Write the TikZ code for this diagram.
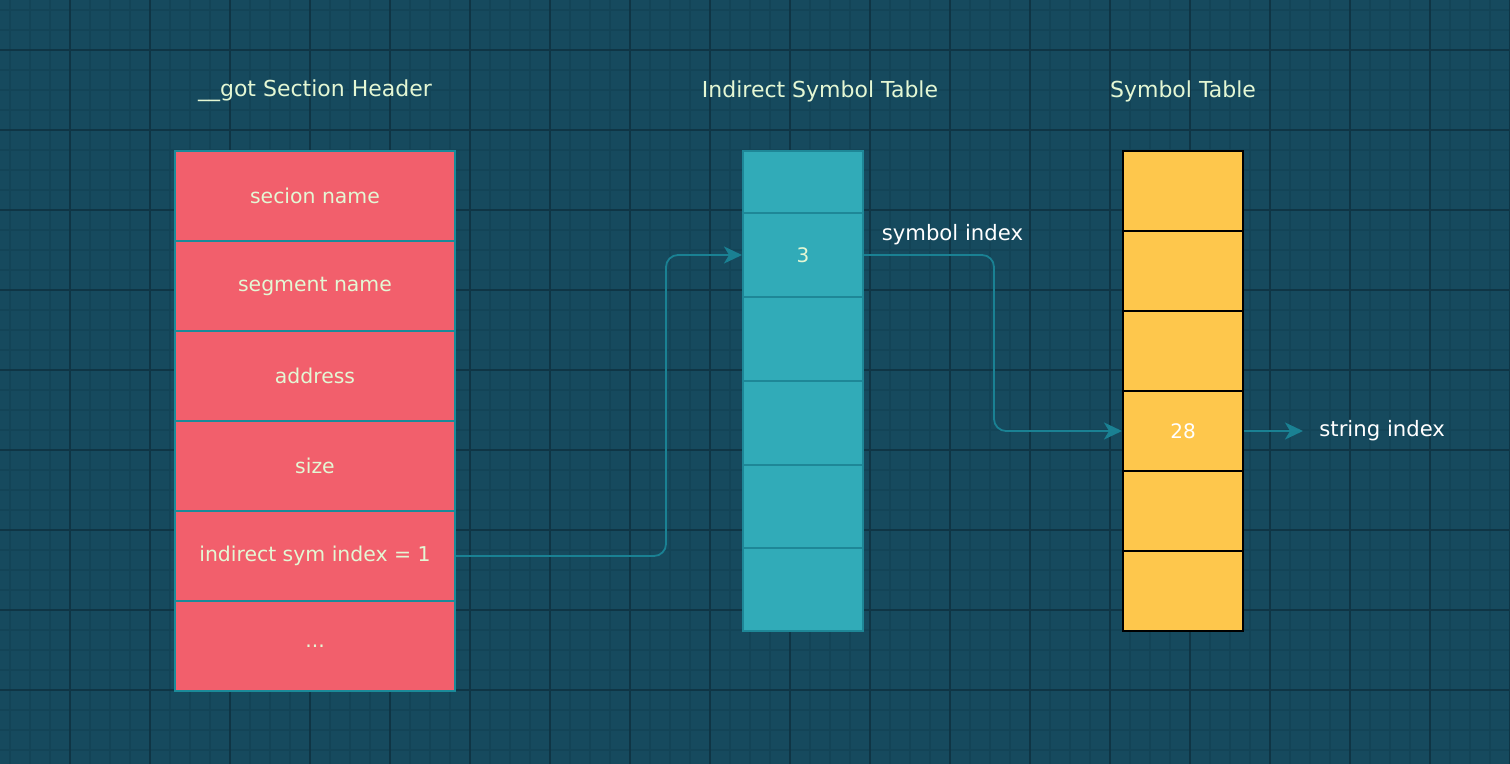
\documentclass[tikz,border=0pt]{standalone}
\usepackage{fontspec}
\setmainfont{DejaVu Sans}
\usepackage{xcolor}
\usetikzlibrary{arrows.meta}

\definecolor{boardbg}{HTML}{164A5E}
\definecolor{minorline}{HTML}{134457}
\definecolor{majorline}{HTML}{0F3545}
\definecolor{gotred}{HTML}{F25F6C}
\definecolor{gotedge}{HTML}{1B8A99}
\definecolor{isymfill}{HTML}{31ABB8}
\definecolor{isymedge}{HTML}{1E8797}
\definecolor{symfill}{HTML}{FEC74C}
\definecolor{mint}{HTML}{E4F7D4}
\definecolor{linkteal}{HTML}{1A8193}

\tikzset{
  gotcell/.style={draw=gotedge, fill=gotred, line width=1pt, minimum width=140pt, minimum height=45pt, text=mint, font=\fontsize{10.2}{12}\selectfont},
  isymcell/.style={draw=isymedge, fill=isymfill, line width=1pt, minimum width=60pt, minimum height=42pt, text=mint, font=\fontsize{10}{12}\selectfont},
  symcell/.style={draw=black, fill=symfill, line width=1pt, minimum width=60pt, minimum height=40pt, text=white, font=\fontsize{10}{12}\selectfont},
  tabletitle/.style={text=mint, font=\fontsize{11}{13}\selectfont},
  linklabel/.style={text=white, font=\fontsize{10.6}{12}\selectfont},
  link/.style={draw=linkteal, line width=0.9pt, rounded corners=6pt, -{Stealth[length=9pt, width=8.5pt, inset=2.5pt]}}
}

\begin{document}
\begin{tikzpicture}[x=0.5pt, y=-0.5pt]

% Background and grid
\fill[boardbg] (0,0) rectangle (1510,764);
\useasboundingbox (0,0) rectangle (1510,764);
\foreach \x in {10,30,...,1510} \draw[minorline, line width=0.6pt] (\x,0) -- (\x,764);
\foreach \y in {10,30,...,764} \draw[minorline, line width=0.6pt] (0,\y) -- (1510,\y);
\foreach \x in {70,150,...,1510} \draw[majorline, line width=0.6pt] (\x,0) -- (\x,764);
\foreach \y in {50,130,...,764} \draw[majorline, line width=0.6pt] (0,\y) -- (1510,\y);

% Table titles
\node[tabletitle] (gottitle) at (315,91) {\_\_got Section Header};
\node[tabletitle] (isymtitle) at (820,91) {Indirect Symbol Table};
\node[tabletitle] (symtitle) at (1183,91) {Symbol Table};

% __got section header cells
\node[gotcell] (secname) at (315,196) {secion name};
\node[gotcell] (segname) at (315,286) {segment name};
\node[gotcell] (addr) at (315,376) {address};
\node[gotcell] (size) at (315,466) {size};
\node[gotcell] (indsym) at (315,556) {indirect sym index = 1};
\node[gotcell] (more) at (315,646) {...};

% Indirect symbol table cells
\node[isymcell, minimum height=31pt] (isym1) at (803,182) {};
\node[isymcell] (isym2) at (803,255) {3};
\node[isymcell] (isym3) at (803,339) {};
\node[isymcell] (isym4) at (803,423) {};
\node[isymcell, minimum height=41.5pt] (isym5) at (803,506.5) {};
\node[isymcell, minimum height=41.5pt] (isym6) at (803,589.5) {};

% Symbol table cells
\node[symcell] (sym1) at (1183,191) {};
\node[symcell] (sym2) at (1183,271) {};
\node[symcell] (sym3) at (1183,351) {};
\node[symcell] (sym4) at (1183,431) {28};
\node[symcell] (sym5) at (1183,511) {};
\node[symcell] (sym6) at (1183,591) {};

% String index label
\node[linklabel, anchor=west, inner xsep=8pt] (strindex) at (1303,431) {string index};

% Connect the tables
\draw[link] (indsym.east) -- ++(210,0) |- (isym2.west);
\draw[link] (isym2.east) -- node[linklabel, pos=0.68, above, yshift=1.5pt] {symbol index} ++(130,0) |- (sym4.west);
\draw[link] (sym4.east) -- (strindex.west);

\end{tikzpicture}
\end{document}
